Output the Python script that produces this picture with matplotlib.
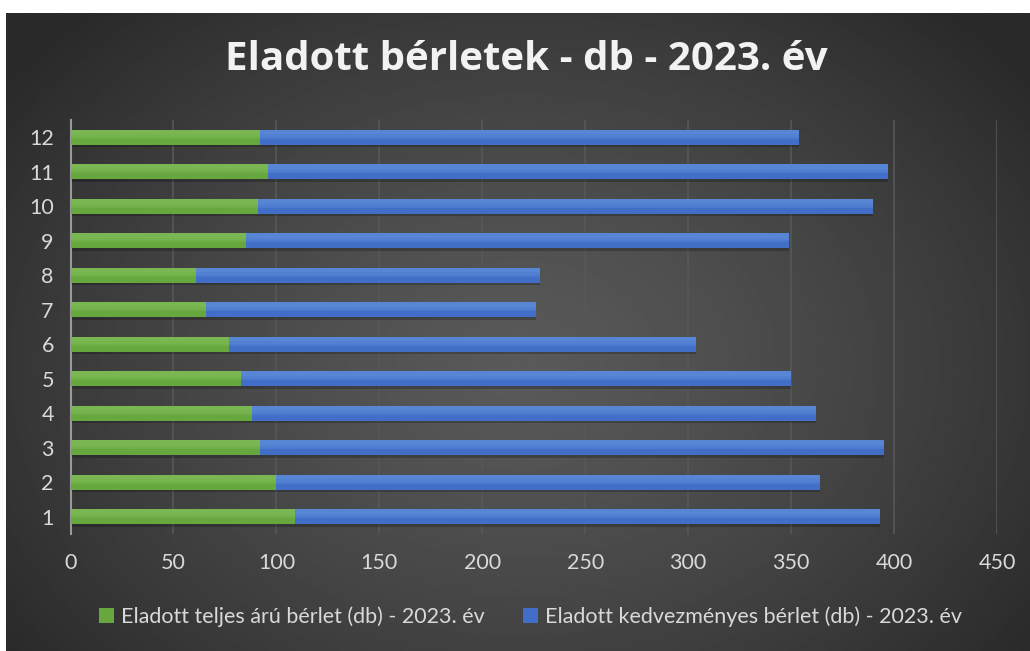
import numpy as np
import matplotlib.pyplot as plt

# adatok
honapok = ['1', '2', '3', '4', '5', '6', '7', '8', '9', '10', '11', '12']
teljes_aru = [109, 100, 92, 88, 83, 77, 66, 61, 85, 91, 96, 92]
kedvezmenyes = [284, 264, 303, 274, 267, 227, 160, 167, 264, 299, 301, 262]

cim = 'Eladott bérletek - db - 2023. év'
cimke_zold = 'Eladott teljes árú bérlet (db) - 2023. év'
cimke_kek = 'Eladott kedvezményes bérlet (db) - 2023. év'

plt.rcParams['font.family'] = ['Lato', 'DejaVu Sans']

fig = plt.figure(figsize=(10.3, 6.51), dpi=100)
fig.patch.set_facecolor('white')

# sötét háttér radiális színátmenettel
bg = fig.add_axes([6 / 1030, 0, 1 - 6 / 1030, 1 - 13 / 651])
ny, nx = 300, 480
yy, xx = np.mgrid[0:ny, 0:nx]
d = np.sqrt(((xx - nx * 0.5) / (nx * 0.62)) ** 2 + ((yy - ny * 0.55) / (ny * 0.75)) ** 2)
d = np.clip(d, 0, 1)
szin = 0.35 - (0.35 - 0.165) * d ** 1.3
bg.imshow(szin, cmap='gray', vmin=0, vmax=1, aspect='auto', interpolation='bilinear')
bg.set_axis_off()

ax = fig.add_axes([70.5 / 1030, 1 - 534 / 651, (997 - 70.5) / 1030, (534 - 120) / 651])
ax.set_facecolor('none')

y = np.arange(1, len(honapok) + 1)
h = 0.43
zold = np.array(teljes_aru)
kek = np.array(kedvezmenyes)

# árnyék a sávok alatt
ax.barh(y - 0.07, zold + kek, height=h, left=0, color='black', alpha=0.22, zorder=2)
ax.barh(y, zold, height=h, color='#66a83e', label=cimke_zold, zorder=3)
ax.barh(y, kek, height=h, left=zold, color='#416fc8', label=cimke_kek, zorder=3)
# világosabb felső rész a színátmenethez
for k in range(3):
    hh = h * (0.6 - 0.15 * k)
    ax.barh(y + h / 2 - hh / 2, zold, height=hh, color='#84be5c', alpha=0.35, zorder=4)
    ax.barh(y + h / 2 - hh / 2, kek, height=hh, left=zold, color='#6190dc', alpha=0.35, zorder=4)

ax.set_xlim(0, 450)
ax.set_ylim(0.5, 12.5)
ax.set_xticks(np.arange(0, 451, 50))
ax.set_yticks(y)
ax.set_yticklabels(honapok)
ax.xaxis.grid(True, color='#575757', linewidth=1.2, zorder=0)
ax.set_axisbelow(True)
for s in ['top', 'right', 'bottom']:
    ax.spines[s].set_visible(False)
ax.spines['left'].set_color('#9a9a9a')
ax.spines['left'].set_linewidth(1.5)
ax.tick_params(axis='both', length=0, colors='#d9d9d9', labelsize=15.5)
ax.tick_params(axis='x', pad=14)
ax.tick_params(axis='y', pad=12)

fig.text(0.511, 1 - 60 / 651, cim, ha='center', va='center', color='#f2f2f2',
         fontsize=29, fontweight='bold', family=['Open Sans', 'DejaVu Sans'])

handles, labels = ax.get_legend_handles_labels()
fig.legend(handles[:2], labels[:2], loc='center', bbox_to_anchor=(0.515, 1 - 617 / 651),
           ncol=2, frameon=False, fontsize=15.5, labelcolor='#d9d9d9',
           handlelength=0.7, handleheight=0.7, handletextpad=0.3, columnspacing=1.8)

fig.savefig('out.png', dpi=100, facecolor=fig.get_facecolor())
